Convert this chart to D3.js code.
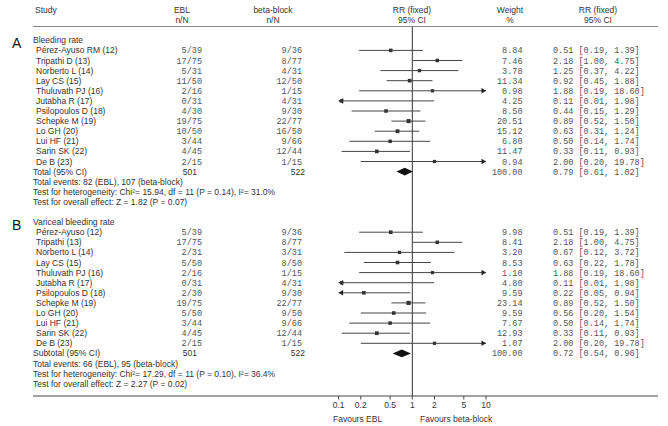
<!DOCTYPE html>
<html>
<head>
<meta charset="utf-8">
<script src="https://cdn.jsdelivr.net/npm/d3@7"></script>
<style>
  body { margin: 0; background: #fff; }
  svg { display: block; }
  .sans { font-family: "Liberation Sans", Arial, sans-serif; font-size: 8.5px; fill: #333; }
  .mono { font-family: "Liberation Mono", "Courier New", monospace; font-size: 8.5px; fill: #555; }
</style>
</head>
<body>
<div id="chart"></div>
<script>
// ---- data ----
const studiesA = ['Pérez-Ayuso RM (12)', 'Tripathi D (13)', 'Norberto L (14)', 'Lay CS (15)', 'Thuluvath PJ (16)',
  'Jutabha R (17)', 'Psilopoulos D (18)', 'Schepke M (19)', 'Lo GH (20)', 'Lui HF (21)', 'Sarin SK (22)', 'De B (23)'];
const eblA = ['5/39', '17/75', '5/31', '11/50', '2/16', '0/31', '4/30', '19/75', '10/50', '3/44', '4/45', '2/15'];
const betaA = ['9/36', '8/77', '4/31', '12/50', '1/15', '4/31', '9/30', '22/77', '16/50', '9/66', '12/44', '1/15'];
const weightA = [8.84, 7.46, 3.78, 11.34, 0.98, 4.25, 8.50, 20.51, 15.12, 6.80, 11.47, 0.94];
const rrA = [0.51, 2.18, 1.25, 0.92, 1.88, 0.11, 0.44, 0.89, 0.63, 0.50, 0.33, 2.00];
const loA = [0.19, 1.00, 0.37, 0.45, 0.19, 0.01, 0.15, 0.52, 0.31, 0.14, 0.11, 0.20];
const hiA = [1.39, 4.75, 4.22, 1.88, 18.60, 1.98, 1.29, 1.50, 1.24, 1.74, 0.93, 19.78];
const totalA = { label: 'Total (95% CI)', ebl: 501, beta: 522, rr: 0.79, lo: 0.61, hi: 1.02 };
const notesA = ['Total events: 82 (EBL), 107 (beta-block)',
  'Test for heterogeneity: Chi²= 15.94, df = 11  (P = 0.14), I²= 31.0%',
  'Test for overall effect: Z = 1.82 (P = 0.07)'];

const studiesB = ['Pérez-Ayuso (12)', 'Tripathi (13)', 'Norberto L (14)', 'Lay CS (15)', 'Thuluvath PJ (16)',
  'Jutabha R (17)', 'Psilopoulos D (18)', 'Schepke M (19)', 'Lo GH (20)', 'Lui HF (21)', 'Sarin SK (22)', 'De B (23)'];
const eblB = ['5/39', '17/75', '2/31', '5/50', '2/16', '0/31', '2/30', '19/75', '5/50', '3/44', '4/45', '2/15'];
const betaB = ['9/36', '8/77', '3/31', '8/50', '1/15', '4/31', '9/30', '22/77', '9/50', '9/66', '12/44', '1/15'];
const weightB = [9.98, 8.41, 3.20, 8.53, 1.10, 4.80, 9.59, 23.14, 9.59, 7.67, 12.93, 1.07];
const rrB = [0.51, 2.18, 0.67, 0.63, 1.88, 0.11, 0.22, 0.89, 0.56, 0.50, 0.33, 2.00];
const loB = [0.19, 1.00, 0.12, 0.22, 0.19, 0.01, 0.05, 0.52, 0.20, 0.14, 0.11, 0.20];
const hiB = [1.39, 4.75, 3.72, 1.78, 18.60, 1.98, 0.94, 1.50, 1.54, 1.74, 0.93, 19.78];
const totalB = { label: 'Subtotal (95% CI)', ebl: 501, beta: 522, rr: 0.72, lo: 0.54, hi: 0.96 };
const notesB = ['Total events: 66 (EBL), 95 (beta-block)',
  'Test for heterogeneity: Chi²= 17.29, df = 11  (P = 0.10), I²= 36.4%',
  'Test for overall effect: Z = 2.27 (P = 0.02)'];

const axisTicks = [0.1, 0.2, 0.5, 1, 2, 5, 10];

// ---- layout ----
const W = 668, H = 426;
const rowStep = 10.1, firstRow = 40.3;
const col = { study: 36, title: 33, ebl: 202, beta: 302, weight: 522.5, rr: 553 };

const x = d3.scaleLog().domain([0.1, 10]).range([338.6, 486]);
const rowY = i => firstRow + i * rowStep;

const svg = d3.select('#chart').append('svg').attr('width', W).attr('height', H);

const fmt2 = d3.format('.2f');
const rrText = (r, l, h) => `${fmt2(r)} [${fmt2(l)}, ${fmt2(h)}]`;

// headers
const hdr = svg.append('g').attr('class', 'sans');
hdr.append('text').attr('x', 35).attr('y', 13).text('Study');
[[182, 'EBL', 'n/N'], [273, 'beta-block', 'n/N'], [412, 'RR (fixed)', '95% CI'],
 [510, 'Weight', '%'], [598, 'RR (fixed)', '95% CI']].forEach(([cx, a, b]) => {
  hdr.append('text').attr('x', cx).attr('y', 13).attr('text-anchor', 'middle').text(a);
  hdr.append('text').attr('x', cx).attr('y', 23).attr('text-anchor', 'middle').text(b);
});
svg.append('line').attr('x1', 33).attr('x2', 658).attr('y1', 26.5).attr('y2', 26.5)
  .attr('stroke', '#888').attr('stroke-width', 1);

// null line
svg.append('line').attr('x1', x(1)).attr('x2', x(1)).attr('y1', 27).attr('y2', 396)
  .attr('stroke', '#333').attr('stroke-width', 1);

function drawSection(start, letter, title, studies, ebl, beta, weight, rr, lo, hi, total, notes) {
  const g = svg.append('g');
  g.append('text').attr('x', 12).attr('y', rowY(start) + 8)
    .style('font-family', '"Liberation Sans", Arial, sans-serif').style('font-size', '14px')
    .attr('fill', '#111').text(letter);
  g.append('text').attr('class', 'sans').attr('x', col.title).attr('y', rowY(start) + 3).text(title);

  studies.forEach((s, i) => {
    const y = rowY(start + 1 + i);
    g.append('text').attr('class', 'sans').attr('x', col.study).attr('y', y + 3).text(s);
    g.append('text').attr('class', 'mono').attr('x', col.ebl).attr('y', y + 3).attr('text-anchor', 'end').text(ebl[i]);
    g.append('text').attr('class', 'mono').attr('x', col.beta).attr('y', y + 3).attr('text-anchor', 'end').text(beta[i]);
    g.append('text').attr('class', 'mono').attr('x', col.weight).attr('y', y + 3).attr('text-anchor', 'end').text(fmt2(weight[i]));
    g.append('text').attr('class', 'mono').attr('x', col.rr).attr('y', y + 3).text(rrText(rr[i], lo[i], hi[i]));

    // CI line clipped to the axis range, arrows where it runs off
    const [d0, d1] = x.domain();
    const l = Math.max(lo[i], d0), h = Math.min(hi[i], d1);
    g.append('line').attr('x1', x(l)).attr('x2', x(h)).attr('y1', y).attr('y2', y)
      .attr('stroke', '#444').attr('stroke-width', 1);
    if (lo[i] < d0) {
      const ax = x(d0);
      g.append('path').attr('d', `M${ax},${y}L${ax + 4.5},${y - 2.8}L${ax + 4.5},${y + 2.8}Z`).attr('fill', '#222');
    }
    if (hi[i] > d1) {
      const ax = x(d1);
      g.append('path').attr('d', `M${ax},${y}L${ax - 4.5},${y - 2.8}L${ax - 4.5},${y + 2.8}Z`).attr('fill', '#222');
    }
    const sz = 3.2 + weight[i] / 25;
    g.append('rect').attr('x', x(rr[i]) - sz / 2).attr('y', y - sz / 2)
      .attr('width', sz).attr('height', sz).attr('fill', '#333');
  });

  const ty = rowY(start + 13);
  g.append('text').attr('class', 'sans').attr('x', col.title).attr('y', ty + 3).text(total.label);
  g.append('text').attr('class', 'sans').attr('x', 197).attr('y', ty + 3).attr('text-anchor', 'end').text(total.ebl);
  g.append('text').attr('class', 'sans').attr('x', 305).attr('y', ty + 3).attr('text-anchor', 'end').text(total.beta);
  g.append('text').attr('class', 'mono').attr('x', col.weight).attr('y', ty + 3).attr('text-anchor', 'end').text('100.00');
  g.append('text').attr('class', 'mono').attr('x', col.rr).attr('y', ty + 3).text(rrText(total.rr, total.lo, total.hi));
  g.append('path')
    .attr('d', `M${x(total.lo)},${ty}L${x(total.rr)},${ty - 3.8}L${x(total.hi)},${ty}L${x(total.rr)},${ty + 3.8}Z`)
    .attr('fill', '#111');

  notes.forEach((n, k) => {
    g.append('text').attr('class', 'sans').attr('x', col.title).attr('y', rowY(start + 14 + k) + 3).text(n);
  });
}

drawSection(0, 'A', 'Bleeding rate', studiesA, eblA, betaA, weightA, rrA, loA, hiA, totalA, notesA);
drawSection(18, 'B', 'Variceal bleeding rate', studiesB, eblB, betaB, weightB, rrB, loB, hiB, totalB, notesB);

// axis
svg.append('line').attr('x1', 33).attr('x2', 658).attr('y1', 396).attr('y2', 396)
  .attr('stroke', '#444').attr('stroke-width', 1);
const ax = svg.append('g').attr('class', 'sans');
axisTicks.forEach(t => {
  ax.append('line').attr('x1', x(t)).attr('x2', x(t)).attr('y1', 396).attr('y2', 399.5)
    .attr('stroke', '#444').attr('stroke-width', 1);
  ax.append('text').attr('x', x(t)).attr('y', 408).attr('text-anchor', 'middle').text(t);
});
ax.append('text').attr('x', 333).attr('y', 422).text('Favours EBL');
ax.append('text').attr('x', 420).attr('y', 422).text('Favours beta-block');
</script>
</body>
</html>
